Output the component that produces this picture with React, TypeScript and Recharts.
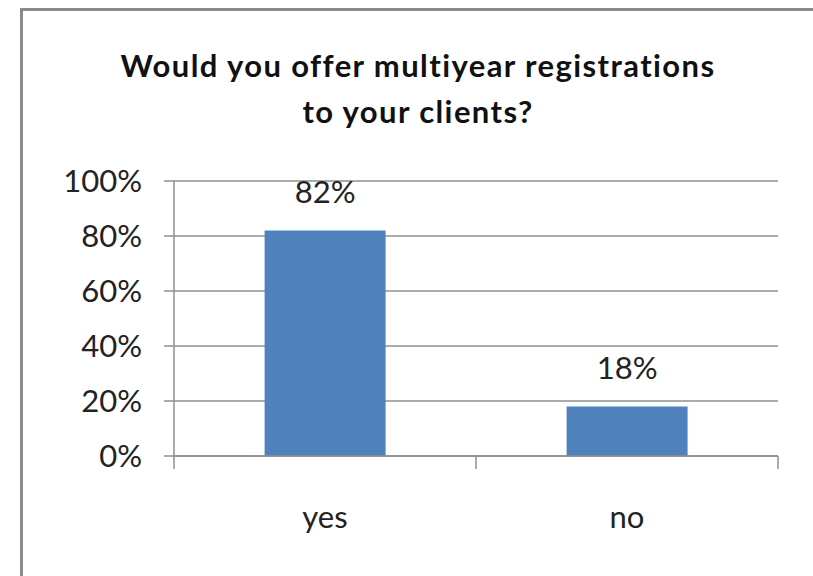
import { BarChart, Bar, XAxis, YAxis, CartesianGrid, LabelList } from 'recharts';

const categories = ['yes', 'no'];
const shares = [0.82, 0.18];
const yTicks = [0, 0.2, 0.4, 0.6, 0.8, 1];
const titleLines = ['Would you offer multiyear registrations', 'to your clients?'];

const data = categories.map((label, i) => ({ label, share: shares[i] }));

const W = 813;
const H = 576;
const xAxisHeight = 120;
const margin = { top: 181, right: 35, bottom: 0, left: 0 };
const yAxisWidth = 174;
const band = (W - margin.right - yAxisWidth) / categories.length;
const FONT = 'Lato, "Open Sans", sans-serif';
const GRAY = '#8f8f8f';

const pct = (v: number) => `${Math.round(v * 100)}%`;

// category ticks sit on the band edges, labels in the middle
const EdgeTick = (props: any) => {
  const { x, y, payload, index, visibleTicksCount } = props;
  const half = band / 2;
  return (
    <g>
      <line x1={x - half} y1={y} x2={x - half} y2={y + 13} stroke={GRAY} strokeWidth={1.5} />
      {index === visibleTicksCount - 1 && (
        <line x1={x + half} y1={y} x2={x + half} y2={y + 13} stroke={GRAY} strokeWidth={1.5} />
      )}
      <text x={x} y={y + 72} textAnchor="middle" fontSize={31} fontFamily={FONT} fill="#222">
        {payload.value}
      </text>
    </g>
  );
};

export default function App() {
  return (
    <div style={{ position: 'fixed', left: 0, top: 0, width: W, height: H, background: '#fff', overflow: 'hidden' }}>
      <div
        style={{
          position: 'absolute',
          left: 20,
          top: 8,
          right: 0,
          bottom: 0,
          borderLeft: '3px solid #8a8a8a',
          borderTop: '3px solid #8a8a8a'
        }}
      />
      <div
        style={{
          position: 'absolute',
          left: 23,
          width: W - 23,
          top: 42,
          textAlign: 'center',
          fontFamily: FONT,
          fontWeight: 700,
          fontSize: 31,
          letterSpacing: 1.4,
          lineHeight: '46px',
          color: '#111'
        }}
      >
        {titleLines.map((t) => (
          <div key={t}>{t}</div>
        ))}
      </div>
      <div style={{ position: 'absolute', left: 0, top: 0 }}>
        <BarChart width={W} height={H} data={data} margin={margin} barCategoryGap="30%">
          <CartesianGrid vertical={false} stroke={GRAY} strokeWidth={1.5} />
          <XAxis
            dataKey="label"
            axisLine={{ stroke: GRAY, strokeWidth: 1.5 }}
            tickLine={false}
            tickSize={0}
            tickMargin={0}
            height={xAxisHeight}
            tick={<EdgeTick />}
            interval={0}
          />
          <YAxis
            width={yAxisWidth}
            domain={[0, 1]}
            ticks={yTicks}
            tickFormatter={pct}
            axisLine={{ stroke: GRAY, strokeWidth: 1.5 }}
            tickLine={{ stroke: GRAY, strokeWidth: 1.5 }}
            tickSize={10}
            tickMargin={22}
            tick={{ fontSize: 31, fontFamily: FONT, fill: '#222' }}
            interval={0}
          />
          <Bar dataKey="share" fill="#4f81bd" isAnimationActive={false}>
            <LabelList
              dataKey="share"
              position="top"
              offset={28}
              formatter={(v: any) => pct(Number(v))}
              style={{ fontSize: 31, fontFamily: FONT, fill: '#222' }}
            />
          </Bar>
        </BarChart>
      </div>
    </div>
  );
}
